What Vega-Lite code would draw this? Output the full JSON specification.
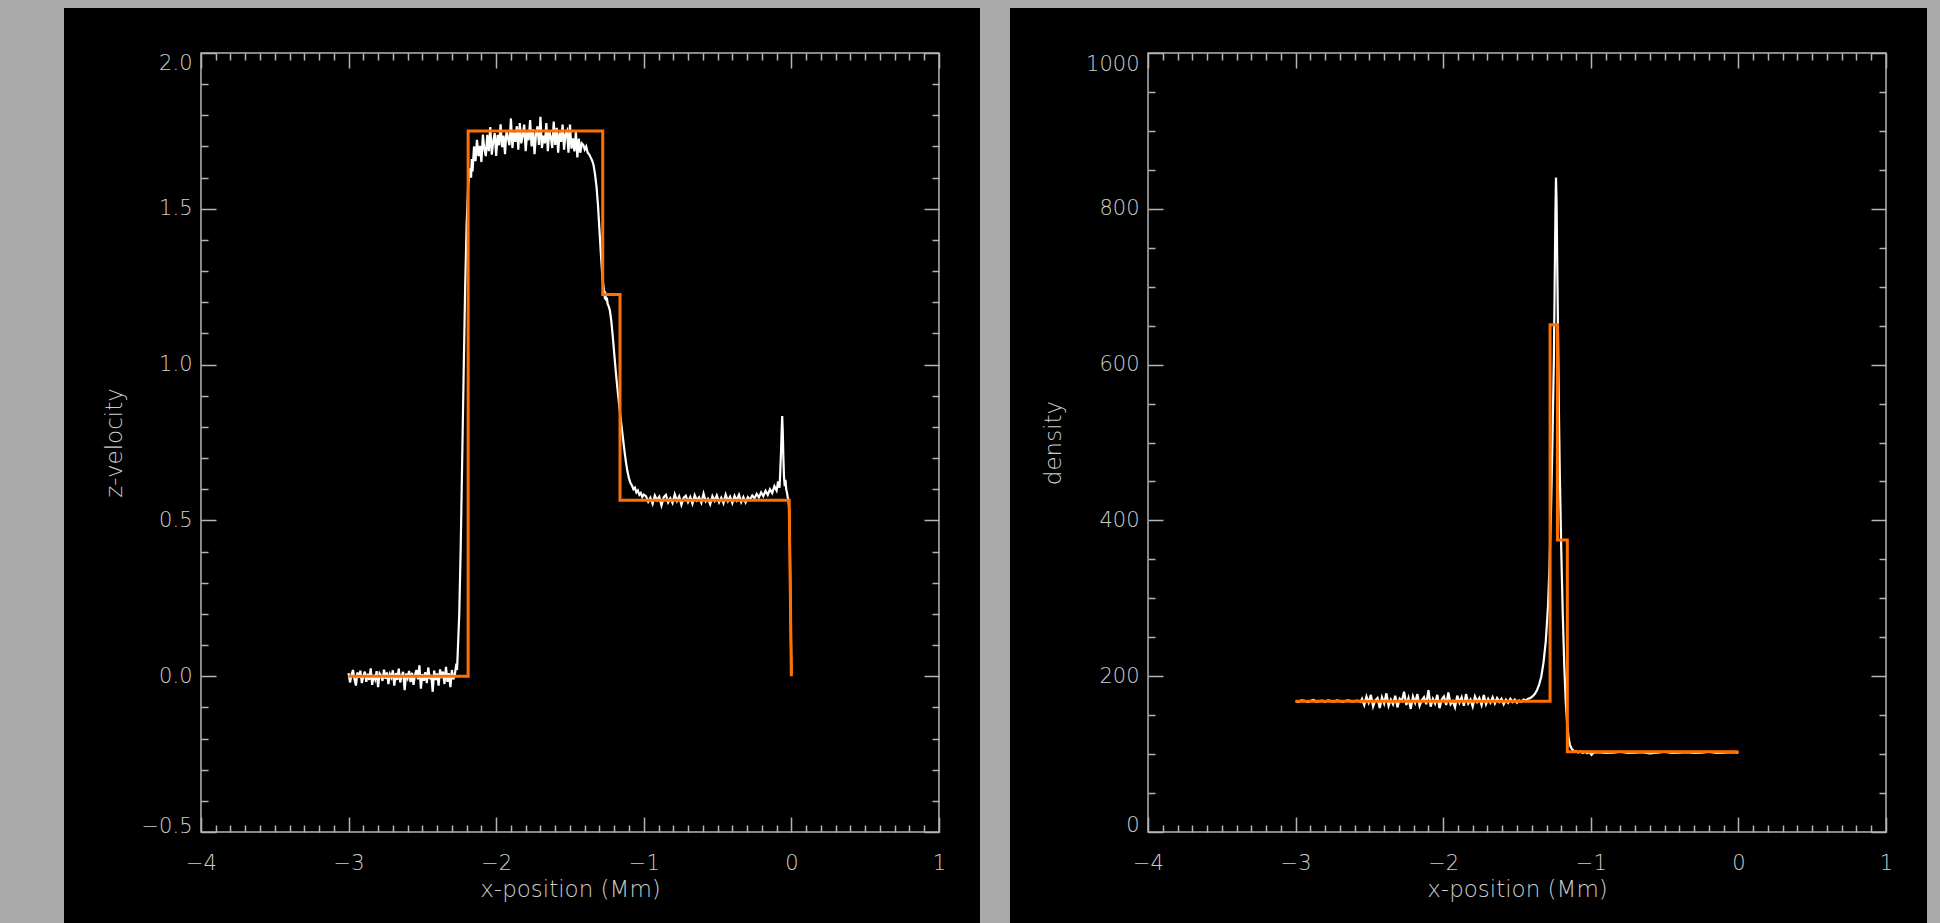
{
"$schema": "https://vega.github.io/schema/vega-lite/v6.json",
"background": "#aaaaaa",
"padding": {"left": 64, "top": 8, "right": 13, "bottom": 0},
"bounds": "flush",
"spacing": 30,
"config": {
  "view": {"fill": "#000000", "stroke": null},
  "axis": {"grid": false, "labelFont": "DejaVu Sans", "titleFont": "DejaVu Sans", "labelFontWeight": 300, "titleFontWeight": 300, "labelColor": "#cccccc", "titleColor": "#cccccc", "labelFontSize": 21, "titleFontSize": 23, "tickColor": "#b4b4b4", "tickWidth": 1.5, "labelOverlap": false, "labelFlush": false}
},
"datasets": {
"velWhite": [
{"x":-3.00,"v":0.01},{"x":-2.99,"v":-0.02},{"x":-2.98,"v":0.005},{"x":-2.97,"v":0.02},{"x":-2.96,"v":-0.01},{"x":-2.95,"v":-0.03},{"x":-2.94,"v":0.012},{"x":-2.93,"v":-0.005},{"x":-2.92,"v":0.018},{"x":-2.91,"v":-0.022},
{"x":-2.90,"v":0.0},{"x":-2.89,"v":0.015},{"x":-2.88,"v":-0.018},{"x":-2.87,"v":0.008},{"x":-2.86,"v":-0.012},{"x":-2.85,"v":0.025},{"x":-2.84,"v":-0.028},{"x":-2.83,"v":0.004},{"x":-2.82,"v":-0.01},{"x":-2.81,"v":0.016},
{"x":-2.80,"v":-0.035},{"x":-2.79,"v":0.009},{"x":-2.78,"v":0.002},{"x":-2.77,"v":-0.015},{"x":-2.76,"v":0.021},{"x":-2.75,"v":-0.008},{"x":-2.74,"v":0.012},{"x":-2.73,"v":-0.025},{"x":-2.72,"v":0.006},{"x":-2.71,"v":-0.004},
{"x":-2.70,"v":0.019},{"x":-2.69,"v":-0.03},{"x":-2.68,"v":0.01},{"x":-2.67,"v":-0.012},{"x":-2.66,"v":0.024},{"x":-2.65,"v":-0.02},{"x":-2.64,"v":0.003},{"x":-2.63,"v":0.014},{"x":-2.62,"v":-0.045},{"x":-2.61,"v":0.008},
{"x":-2.60,"v":-0.006},{"x":-2.59,"v":0.017},{"x":-2.58,"v":-0.019},{"x":-2.57,"v":0.011},{"x":-2.56,"v":-0.028},{"x":-2.55,"v":0.005},{"x":-2.54,"v":0.02},{"x":-2.53,"v":-0.01},{"x":-2.52,"v":0.035},{"x":-2.51,"v":-0.04},
{"x":-2.50,"v":0.007},{"x":-2.49,"v":-0.015},{"x":-2.48,"v":0.013},{"x":-2.47,"v":-0.022},{"x":-2.46,"v":0.028},{"x":-2.45,"v":-0.009},{"x":-2.44,"v":0.004},{"x":-2.43,"v":-0.05},{"x":-2.42,"v":0.018},{"x":-2.41,"v":-0.012},
{"x":-2.40,"v":0.009},{"x":-2.39,"v":-0.03},{"x":-2.38,"v":0.022},{"x":-2.37,"v":-0.006},{"x":-2.36,"v":0.015},{"x":-2.35,"v":-0.025},{"x":-2.34,"v":0.03},{"x":-2.33,"v":-0.018},{"x":-2.32,"v":0.01},{"x":-2.31,"v":-0.035},
{"x":-2.30,"v":0.02},{"x":-2.29,"v":-0.01},{"x":-2.28,"v":0.005},{"x":-2.27,"v":0.04},
{"x":-2.265,"v":0.02},{"x":-2.26,"v":0.08},{"x":-2.25,"v":0.2},{"x":-2.24,"v":0.42},{"x":-2.23,"v":0.7},{"x":-2.22,"v":0.98},{"x":-2.21,"v":1.25},{"x":-2.20,"v":1.45},{"x":-2.19,"v":1.57},{"x":-2.18,"v":1.63},{"x":-2.17,"v":1.6},{"x":-2.165,"v":1.66},{"x":-2.16,"v":1.62},
{"x":-2.15,"v":1.70},{"x":-2.14,"v":1.653},{"x":-2.13,"v":1.721},{"x":-2.12,"v":1.669},{"x":-2.11,"v":1.702},{"x":-2.10,"v":1.65},{"x":-2.09,"v":1.738},{"x":-2.08,"v":1.691},{"x":-2.07,"v":1.669},{"x":-2.06,"v":1.737},
{"x":-2.05,"v":1.685},{"x":-2.04,"v":1.762},{"x":-2.03,"v":1.674},{"x":-2.02,"v":1.716},{"x":-2.01,"v":1.743},{"x":-2.00,"v":1.67},{"x":-1.99,"v":1.737},{"x":-1.98,"v":1.704},{"x":-1.97,"v":1.771},{"x":-1.96,"v":1.698},
{"x":-1.95,"v":1.735},{"x":-1.94,"v":1.675},{"x":-1.93,"v":1.752},{"x":-1.92,"v":1.727},{"x":-1.91,"v":1.704},{"x":-1.90,"v":1.79},{"x":-1.89,"v":1.695},{"x":-1.88,"v":1.745},{"x":-1.87,"v":1.715},{"x":-1.86,"v":1.765},
{"x":-1.85,"v":1.69},{"x":-1.84,"v":1.775},{"x":-1.83,"v":1.71},{"x":-1.82,"v":1.735},{"x":-1.81,"v":1.77},{"x":-1.80,"v":1.685},{"x":-1.79,"v":1.745},{"x":-1.78,"v":1.72},{"x":-1.77,"v":1.785},{"x":-1.76,"v":1.70},
{"x":-1.75,"v":1.755},{"x":-1.74,"v":1.675},{"x":-1.73,"v":1.74},{"x":-1.72,"v":1.765},{"x":-1.71,"v":1.705},{"x":-1.70,"v":1.795},{"x":-1.69,"v":1.695},{"x":-1.68,"v":1.735},{"x":-1.67,"v":1.71},{"x":-1.66,"v":1.775},
{"x":-1.65,"v":1.685},{"x":-1.64,"v":1.75},{"x":-1.63,"v":1.73},{"x":-1.62,"v":1.695},{"x":-1.61,"v":1.78},{"x":-1.60,"v":1.705},{"x":-1.59,"v":1.76},{"x":-1.58,"v":1.68},{"x":-1.57,"v":1.745},{"x":-1.56,"v":1.715},
{"x":-1.55,"v":1.77},{"x":-1.54,"v":1.69},{"x":-1.53,"v":1.74},{"x":-1.52,"v":1.75},{"x":-1.51,"v":1.68},{"x":-1.50,"v":1.77},{"x":-1.49,"v":1.693},{"x":-1.48,"v":1.726},{"x":-1.47,"v":1.684},{"x":-1.46,"v":1.747},
{"x":-1.45,"v":1.665},{"x":-1.44,"v":1.725},{"x":-1.43,"v":1.68},{"x":-1.42,"v":1.71},
{"x":-1.41,"v":1.705},{"x":-1.40,"v":1.69},{"x":-1.39,"v":1.70},{"x":-1.38,"v":1.68},{"x":-1.37,"v":1.675},{"x":-1.36,"v":1.665},{"x":-1.35,"v":1.655},{"x":-1.34,"v":1.64},{"x":-1.33,"v":1.61},{"x":-1.32,"v":1.57},
{"x":-1.31,"v":1.51},{"x":-1.30,"v":1.43},{"x":-1.29,"v":1.35},{"x":-1.28,"v":1.28},{"x":-1.27,"v":1.24},{"x":-1.265,"v":1.22},{"x":-1.26,"v":1.225},{"x":-1.255,"v":1.205},{"x":-1.25,"v":1.215},{"x":-1.245,"v":1.195},
{"x":-1.24,"v":1.19},{"x":-1.23,"v":1.175},{"x":-1.22,"v":1.14},{"x":-1.21,"v":1.09},{"x":-1.20,"v":1.035},{"x":-1.19,"v":0.98},{"x":-1.18,"v":0.93},{"x":-1.17,"v":0.885},{"x":-1.16,"v":0.84},{"x":-1.15,"v":0.80},
{"x":-1.14,"v":0.76},{"x":-1.13,"v":0.72},{"x":-1.12,"v":0.685},{"x":-1.11,"v":0.655},{"x":-1.10,"v":0.635},{"x":-1.09,"v":0.62},{"x":-1.08,"v":0.612},{"x":-1.07,"v":0.60},{"x":-1.06,"v":0.605},{"x":-1.05,"v":0.59},
{"x":-1.04,"v":0.596},{"x":-1.03,"v":0.582},{"x":-1.02,"v":0.588},{"x":-1.01,"v":0.575},{"x":-1.00,"v":0.583},
{"x":-0.985,"v":0.578},{"x":-0.97,"v":0.56},{"x":-0.955,"v":0.573},{"x":-0.94,"v":0.553},{"x":-0.925,"v":0.58},{"x":-0.91,"v":0.565},{"x":-0.895,"v":0.576},{"x":-0.88,"v":0.548},{"x":-0.865,"v":0.574},{"x":-0.85,"v":0.582},
{"x":-0.835,"v":0.558},{"x":-0.82,"v":0.571},{"x":-0.805,"v":0.556},{"x":-0.79,"v":0.584},{"x":-0.775,"v":0.562},{"x":-0.76,"v":0.577},{"x":-0.745,"v":0.55},{"x":-0.73,"v":0.572},{"x":-0.715,"v":0.579},{"x":-0.70,"v":0.559},
{"x":-0.685,"v":0.575},{"x":-0.67,"v":0.554},{"x":-0.655,"v":0.581},{"x":-0.64,"v":0.564},{"x":-0.625,"v":0.574},{"x":-0.61,"v":0.557},{"x":-0.595,"v":0.586},{"x":-0.58,"v":0.561},{"x":-0.565,"v":0.57},{"x":-0.55,"v":0.552},
{"x":-0.535,"v":0.578},{"x":-0.52,"v":0.563},{"x":-0.505,"v":0.58},{"x":-0.49,"v":0.558},{"x":-0.475,"v":0.573},{"x":-0.46,"v":0.555},{"x":-0.445,"v":0.583},{"x":-0.43,"v":0.562},{"x":-0.415,"v":0.576},{"x":-0.40,"v":0.556},
{"x":-0.385,"v":0.579},{"x":-0.37,"v":0.564},{"x":-0.355,"v":0.582},{"x":-0.34,"v":0.559},{"x":-0.325,"v":0.575},{"x":-0.31,"v":0.558},
{"x":-0.295,"v":0.575},{"x":-0.28,"v":0.566},{"x":-0.265,"v":0.58},{"x":-0.25,"v":0.571},{"x":-0.235,"v":0.585},{"x":-0.22,"v":0.574},{"x":-0.205,"v":0.59},{"x":-0.19,"v":0.578},{"x":-0.175,"v":0.595},{"x":-0.16,"v":0.582},
{"x":-0.145,"v":0.60},{"x":-0.13,"v":0.588},{"x":-0.115,"v":0.61},{"x":-0.10,"v":0.596},{"x":-0.09,"v":0.625},{"x":-0.08,"v":0.605},{"x":-0.075,"v":0.66},{"x":-0.07,"v":0.72},{"x":-0.065,"v":0.80},{"x":-0.062,"v":0.835},
{"x":-0.058,"v":0.78},{"x":-0.054,"v":0.70},{"x":-0.05,"v":0.64},{"x":-0.045,"v":0.61},{"x":-0.04,"v":0.63},{"x":-0.035,"v":0.60},{"x":-0.03,"v":0.59},{"x":-0.025,"v":0.575},{"x":-0.02,"v":0.565},{"x":-0.015,"v":0.54},
{"x":-0.01,"v":0.40},{"x":-0.005,"v":0.20},{"x":0.0,"v":0.01}
],
"velOrange": [
{"x":-3.0,"v":0.0},{"x":-2.19,"v":0.0},{"x":-2.19,"v":1.75},{"x":-1.278,"v":1.75},{"x":-1.278,"v":1.225},{"x":-1.161,"v":1.225},{"x":-1.161,"v":0.565},{"x":-0.015,"v":0.565},{"x":0.0,"v":0.0}
],
"denWhite": [
{"x":-3.00,"d":168},{"x":-2.98,"d":167},{"x":-2.96,"d":169},{"x":-2.94,"d":168.5},{"x":-2.92,"d":167},{"x":-2.90,"d":168},{"x":-2.88,"d":169.5},{"x":-2.86,"d":167.5},{"x":-2.84,"d":168},{"x":-2.82,"d":168.5},
{"x":-2.80,"d":167},{"x":-2.78,"d":169},{"x":-2.76,"d":168},{"x":-2.74,"d":167.5},{"x":-2.72,"d":169},{"x":-2.70,"d":168},{"x":-2.68,"d":167},{"x":-2.66,"d":168.5},{"x":-2.64,"d":169},{"x":-2.62,"d":167.5},
{"x":-2.60,"d":168},{"x":-2.58,"d":168.5},{"x":-2.56,"d":167},
{"x":-2.55,"d":171},{"x":-2.535,"d":163},{"x":-2.52,"d":174},{"x":-2.505,"d":166},{"x":-2.49,"d":176},{"x":-2.475,"d":161},{"x":-2.46,"d":169},{"x":-2.445,"d":172},{"x":-2.43,"d":159},{"x":-2.415,"d":173},
{"x":-2.40,"d":165},{"x":-2.385,"d":178},{"x":-2.37,"d":162},{"x":-2.355,"d":170},{"x":-2.34,"d":164},{"x":-2.325,"d":175},{"x":-2.31,"d":160},{"x":-2.295,"d":171},{"x":-2.28,"d":168},{"x":-2.265,"d":180},
{"x":-2.25,"d":163},{"x":-2.235,"d":172},{"x":-2.22,"d":158},{"x":-2.205,"d":174},{"x":-2.19,"d":166},{"x":-2.175,"d":177},{"x":-2.16,"d":162},{"x":-2.145,"d":169},{"x":-2.13,"d":173},{"x":-2.115,"d":164},
{"x":-2.10,"d":182},{"x":-2.085,"d":161},{"x":-2.07,"d":171},{"x":-2.055,"d":165},{"x":-2.04,"d":176},{"x":-2.025,"d":159},{"x":-2.01,"d":170},{"x":-1.995,"d":174},{"x":-1.98,"d":163},{"x":-1.965,"d":179},
{"x":-1.95,"d":164},{"x":-1.935,"d":168},{"x":-1.92,"d":160},{"x":-1.905,"d":175},{"x":-1.89,"d":166},{"x":-1.875,"d":173},{"x":-1.86,"d":162},{"x":-1.845,"d":177},{"x":-1.83,"d":165},{"x":-1.815,"d":170},
{"x":-1.80,"d":161},{"x":-1.785,"d":174},{"x":-1.77,"d":167},{"x":-1.755,"d":172},{"x":-1.74,"d":163},{"x":-1.725,"d":176},{"x":-1.71,"d":164},{"x":-1.695,"d":171},{"x":-1.68,"d":166},{"x":-1.665,"d":173},
{"x":-1.65,"d":165},{"x":-1.635,"d":172},{"x":-1.62,"d":167},{"x":-1.605,"d":171},{"x":-1.59,"d":164},{"x":-1.575,"d":170},{"x":-1.56,"d":166},{"x":-1.545,"d":171},{"x":-1.53,"d":167},{"x":-1.515,"d":170},
{"x":-1.50,"d":166},
{"x":-1.485,"d":169},{"x":-1.47,"d":167},{"x":-1.455,"d":170},{"x":-1.44,"d":169},{"x":-1.425,"d":171},{"x":-1.41,"d":172},{"x":-1.395,"d":174},{"x":-1.38,"d":177},{"x":-1.365,"d":182},{"x":-1.35,"d":189},
{"x":-1.335,"d":200},{"x":-1.32,"d":218},{"x":-1.305,"d":245},{"x":-1.29,"d":290},{"x":-1.28,"d":340},{"x":-1.27,"d":410},{"x":-1.26,"d":500},{"x":-1.25,"d":610},{"x":-1.245,"d":700},{"x":-1.24,"d":790},
{"x":-1.236,"d":840},{"x":-1.232,"d":810},{"x":-1.228,"d":740},{"x":-1.222,"d":640},{"x":-1.216,"d":540},{"x":-1.21,"d":460},{"x":-1.20,"d":360},{"x":-1.19,"d":280},{"x":-1.18,"d":215},{"x":-1.17,"d":168},
{"x":-1.16,"d":138},{"x":-1.15,"d":120},{"x":-1.14,"d":111},{"x":-1.13,"d":107},{"x":-1.12,"d":105},{"x":-1.11,"d":103},{"x":-1.10,"d":104},{"x":-1.085,"d":102},{"x":-1.07,"d":103.5},{"x":-1.055,"d":101.5},
{"x":-1.04,"d":103},{"x":-1.025,"d":101},{"x":-1.01,"d":102.5},{"x":-0.995,"d":99},{"x":-0.98,"d":102},
{"x":-0.95,"d":102.5},{"x":-0.90,"d":101.5},{"x":-0.85,"d":102},{"x":-0.80,"d":103},{"x":-0.75,"d":101.5},{"x":-0.70,"d":102},{"x":-0.65,"d":102.5},{"x":-0.60,"d":101},{"x":-0.55,"d":102},{"x":-0.50,"d":103},
{"x":-0.45,"d":101.5},{"x":-0.40,"d":102},{"x":-0.35,"d":102.5},{"x":-0.30,"d":101.5},{"x":-0.25,"d":102},{"x":-0.20,"d":103},{"x":-0.15,"d":101.5},{"x":-0.10,"d":102},{"x":-0.05,"d":102.5},{"x":0.0,"d":102}
],
"denOrange": [
{"x":-3.0,"d":168},{"x":-1.276,"d":168},{"x":-1.276,"d":651},{"x":-1.226,"d":651},{"x":-1.226,"d":375},{"x":-1.159,"d":375},{"x":-1.159,"d":103},{"x":0.0,"d":103}
]
},
"hconcat": [
{
  "width": 916, "height": 915,
  "resolve": {"axis": {"x": "independent", "y": "independent"}},
  "layer": [
    {
      "data": {"values": [{}]},
      "mark": {"type": "rect", "fill": "transparent", "stroke": "#b4b4b4", "strokeWidth": 1.5},
      "encoding": {
        "x": {"datum": -4, "type": "quantitative", "scale": {"domain": [-4.928, 1.278], "nice": false, "zero": false},
              "axis": {"orient": "top", "offset": -45, "domain": false, "labels": false, "title": null,
                       "values": [-4,-3.9,-3.8,-3.7,-3.6,-3.5,-3.4,-3.3,-3.2,-3.1,-3,-2.9,-2.8,-2.7,-2.6,-2.5,-2.4,-2.3,-2.2,-2.1,-2,-1.9,-1.8,-1.7,-1.6,-1.5,-1.4,-1.3,-1.2,-1.1,-1,-0.9,-0.8,-0.7,-0.6,-0.5,-0.4,-0.3,-0.2,-0.1,0,0.1,0.2,0.3,0.4,0.5,0.6,0.7,0.8,0.9,1],
                       "tickSize": {"condition": {"test": "datum.value == round(datum.value)", "value": -15}, "value": -7}}},
        "x2": {"datum": 1},
        "y": {"datum": -0.5, "type": "quantitative", "scale": {"domain": [-0.792, 2.1444], "nice": false, "zero": false},
              "axis": {"orient": "right", "offset": -41, "domain": false, "labels": false, "title": null,
                       "values": [-0.5,-0.4,-0.3,-0.2,-0.1,0,0.1,0.2,0.3,0.4,0.5,0.6,0.7,0.8,0.9,1,1.1,1.2,1.3,1.4,1.5,1.6,1.7,1.8,1.9,2],
                       "tickSize": {"condition": {"test": "abs(datum.value*2 - round(datum.value*2)) < 0.001", "value": -15}, "value": -7}}},
        "y2": {"datum": 2}
      }
    },
    {
      "data": {"name": "velWhite"},
      "mark": {"type": "line", "color": "#ffffff", "strokeWidth": 2.2},
      "encoding": {
        "x": {"field": "x", "type": "quantitative", "scale": {"domain": [-4.928, 1.278], "nice": false, "zero": false},
              "axis": {"orient": "bottom", "offset": -91, "domain": false, "ticks": false, "values": [-4,-3,-2,-1,0,1], "format": "d",
                       "labelPadding": 20, "title": "x-position (Mm)", "titlePadding": 5, "titleX": 506, "titleAnchor": null}},
        "y": {"field": "v", "type": "quantitative", "scale": {"domain": [-0.792, 2.1444], "nice": false, "zero": false},
              "axis": {"orient": "left", "offset": -137, "domain": false, "ticks": false, "values": [-0.5,0,0.5,1,1.5,2], "format": ".1f",
                       "labelPadding": 9, "title": "z-velocity", "titlePadding": 15, "titleY": 434.5,
                       "labelBaseline": {"condition": [{"test": "datum.value == 2", "value": "top"}, {"test": "datum.value == -0.5", "value": "alphabetic"}], "value": "middle"}}},
        "order": {"value": null}
      }
    },
    {
      "data": {"name": "velOrange"},
      "mark": {"type": "line", "color": "#ff7000", "strokeWidth": 3},
      "encoding": {
        "x": {"field": "x", "type": "quantitative", "scale": {"domain": [-4.928, 1.278], "nice": false, "zero": false},
              "axis": {"orient": "bottom", "offset": -91, "domain": false, "labels": false, "title": null,
                       "values": [-4,-3.9,-3.8,-3.7,-3.6,-3.5,-3.4,-3.3,-3.2,-3.1,-3,-2.9,-2.8,-2.7,-2.6,-2.5,-2.4,-2.3,-2.2,-2.1,-2,-1.9,-1.8,-1.7,-1.6,-1.5,-1.4,-1.3,-1.2,-1.1,-1,-0.9,-0.8,-0.7,-0.6,-0.5,-0.4,-0.3,-0.2,-0.1,0,0.1,0.2,0.3,0.4,0.5,0.6,0.7,0.8,0.9,1],
                       "tickSize": {"condition": {"test": "datum.value == round(datum.value)", "value": -15}, "value": -7}}},
        "y": {"field": "v", "type": "quantitative", "scale": {"domain": [-0.792, 2.1444], "nice": false, "zero": false},
              "axis": {"orient": "left", "offset": -137, "domain": false, "labels": false, "title": null,
                       "values": [-0.5,-0.4,-0.3,-0.2,-0.1,0,0.1,0.2,0.3,0.4,0.5,0.6,0.7,0.8,0.9,1,1.1,1.2,1.3,1.4,1.5,1.6,1.7,1.8,1.9,2],
                       "tickSize": {"condition": {"test": "abs(datum.value*2 - round(datum.value*2)) < 0.001", "value": -15}, "value": -7}}},
        "order": {"value": null}
      }
    }
  ]
},
{
  "width": 917, "height": 915,
  "resolve": {"axis": {"x": "independent", "y": "independent"}},
  "layer": [
    {
      "data": {"values": [{}]},
      "mark": {"type": "rect", "fill": "transparent", "stroke": "#b4b4b4", "strokeWidth": 1.5},
      "encoding": {
        "x": {"datum": -4, "type": "quantitative", "scale": {"domain": [-4.935, 1.2778], "nice": false, "zero": false},
              "axis": {"orient": "top", "offset": -45, "domain": false, "labels": false, "title": null,
                       "values": [-4,-3.9,-3.8,-3.7,-3.6,-3.5,-3.4,-3.3,-3.2,-3.1,-3,-2.9,-2.8,-2.7,-2.6,-2.5,-2.4,-2.3,-2.2,-2.1,-2,-1.9,-1.8,-1.7,-1.6,-1.5,-1.4,-1.3,-1.2,-1.1,-1,-0.9,-0.8,-0.7,-0.6,-0.5,-0.4,-0.3,-0.2,-0.1,0,0.1,0.2,0.3,0.4,0.5,0.6,0.7,0.8,0.9,1],
                       "tickSize": {"condition": {"test": "datum.value == round(datum.value)", "value": -15}, "value": -7}}},
        "x2": {"datum": 1},
        "y": {"datum": 0, "type": "quantitative", "scale": {"domain": [-116.82, 1057.77], "nice": false, "zero": false},
              "axis": {"orient": "right", "offset": -41, "domain": false, "labels": false, "title": null,
                       "values": [0,50,100,150,200,250,300,350,400,450,500,550,600,650,700,750,800,850,900,950,1000],
                       "tickSize": {"condition": {"test": "datum.value % 200 == 0", "value": -15}, "value": -7}}},
        "y2": {"datum": 1000}
      }
    },
    {
      "data": {"name": "denWhite"},
      "mark": {"type": "line", "color": "#ffffff", "strokeWidth": 2.2},
      "encoding": {
        "x": {"field": "x", "type": "quantitative", "scale": {"domain": [-4.935, 1.2778], "nice": false, "zero": false},
              "axis": {"orient": "bottom", "offset": -91, "domain": false, "ticks": false, "values": [-4,-3,-2,-1,0,1], "format": "d",
                       "labelPadding": 20, "title": "x-position (Mm)", "titlePadding": 5, "titleX": 507, "titleAnchor": null}},
        "y": {"field": "d", "type": "quantitative", "scale": {"domain": [-116.82, 1057.77], "nice": false, "zero": false},
              "axis": {"orient": "left", "offset": -138, "domain": false, "ticks": false, "values": [0,200,400,600,800,1000], "format": "d",
                       "labelPadding": 9, "title": "density", "titlePadding": 20, "titleY": 434.5,
                       "labelBaseline": {"condition": [{"test": "datum.value == 1000", "value": "top"}, {"test": "datum.value == 0", "value": "alphabetic"}], "value": "middle"}}},
        "order": {"value": null}
      }
    },
    {
      "data": {"name": "denOrange"},
      "mark": {"type": "line", "color": "#ff7000", "strokeWidth": 3},
      "encoding": {
        "x": {"field": "x", "type": "quantitative", "scale": {"domain": [-4.935, 1.2778], "nice": false, "zero": false},
              "axis": {"orient": "bottom", "offset": -91, "domain": false, "labels": false, "title": null,
                       "values": [-4,-3.9,-3.8,-3.7,-3.6,-3.5,-3.4,-3.3,-3.2,-3.1,-3,-2.9,-2.8,-2.7,-2.6,-2.5,-2.4,-2.3,-2.2,-2.1,-2,-1.9,-1.8,-1.7,-1.6,-1.5,-1.4,-1.3,-1.2,-1.1,-1,-0.9,-0.8,-0.7,-0.6,-0.5,-0.4,-0.3,-0.2,-0.1,0,0.1,0.2,0.3,0.4,0.5,0.6,0.7,0.8,0.9,1],
                       "tickSize": {"condition": {"test": "datum.value == round(datum.value)", "value": -15}, "value": -7}}},
        "y": {"field": "d", "type": "quantitative", "scale": {"domain": [-116.82, 1057.77], "nice": false, "zero": false},
              "axis": {"orient": "left", "offset": -138, "domain": false, "labels": false, "title": null,
                       "values": [0,50,100,150,200,250,300,350,400,450,500,550,600,650,700,750,800,850,900,950,1000],
                       "tickSize": {"condition": {"test": "datum.value % 200 == 0", "value": -15}, "value": -7}}},
        "order": {"value": null}
      }
    }
  ]
}
]
}
